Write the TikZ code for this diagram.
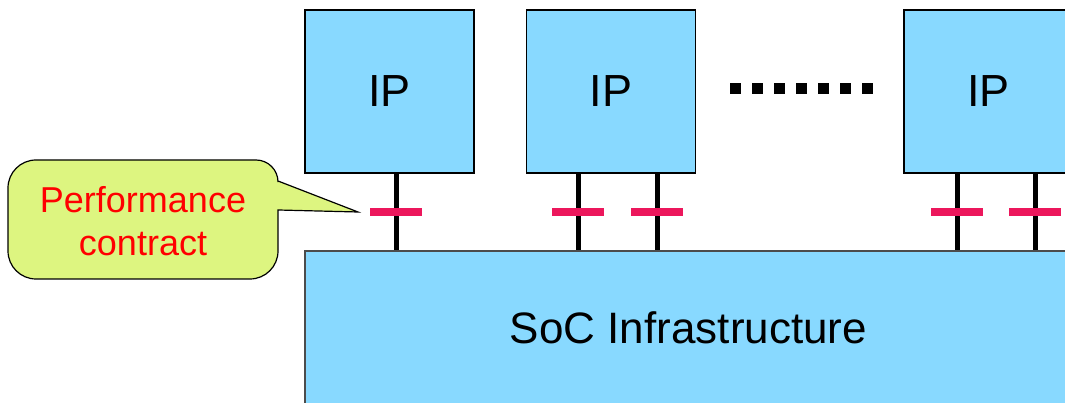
\documentclass[tikz,border=0pt]{standalone}
\usepackage{fontspec}
\setmainfont{Liberation Sans}
\definecolor{boxblue}{RGB}{136,217,255}
\definecolor{callgreen}{RGB}{221,245,128}
\definecolor{barred}{RGB}{236,23,92}
\begin{document}
\begin{tikzpicture}[x=1pt,y=1pt,
  ipbox/.style={draw=black,line width=1.5pt,fill=boxblue,minimum width=169pt,minimum height=163pt,inner sep=0pt,font=\fontsize{45}{50}\selectfont},
  socbox/.style={draw=black!70,line width=1.5pt,fill=boxblue,minimum width=767pt,minimum height=154pt,inner sep=0pt,font=\fontsize{44}{50}\selectfont},
  link/.style={line width=5pt,black},
  contractbar/.style={fill=barred,minimum width=52pt,minimum height=8pt,inner sep=0pt,draw=none},
  calltext/.style={text=red,align=center,font=\fontsize{36}{43}\selectfont,inner sep=0pt},
  callshape/.style={fill=callgreen,draw=black,line width=1.2pt},
  dot/.style={fill=black}]
\useasboundingbox (0,0) rectangle (1065,403);
\clip (0,0) rectangle (1065,403);
% IP blocks
\node[ipbox] (ip1) at (389.5,311.5) {IP};
\node[ipbox] (ip2) at (611,311.5) {IP};
\node[ipbox] (ip3) at (988.5,311.5) {IP};
% SoC infrastructure
\node[socbox] (soc) at (688.5,75) {SoC Infrastructure};
% dots
\foreach \i in {0,...,6} {
  \fill[dot] (736+22*\i-6,314.5-5.5) rectangle ++(11,11);
}
% connectors
\foreach \n/\x in {ip1/396,ip2/578,ip2/657,ip3/957,ip3/1035} {
  \coordinate (top) at (\x,0 |- \n.south);
  \draw[link] (top) -- (top |- soc.north) node[midway,contractbar] {};
}
% callout
\node[calltext] (contract) at (143,182) {Performance\\contract};
\coordinate (tip) at (358,191);
\draw[callshape]
  (36,243) -- (256,243) arc[start angle=90,end angle=0,radius=22]
  -- (278,222) -- (tip) -- (278,193) -- (278,152)
  arc[start angle=0,end angle=-90,radius=28] -- (36,124)
  arc[start angle=270,end angle=180,radius=28] -- (8,215)
  arc[start angle=180,end angle=90,radius=28] -- cycle;
\node[calltext] at (contract) {Performance\\contract};
\end{tikzpicture}
\end{document}
